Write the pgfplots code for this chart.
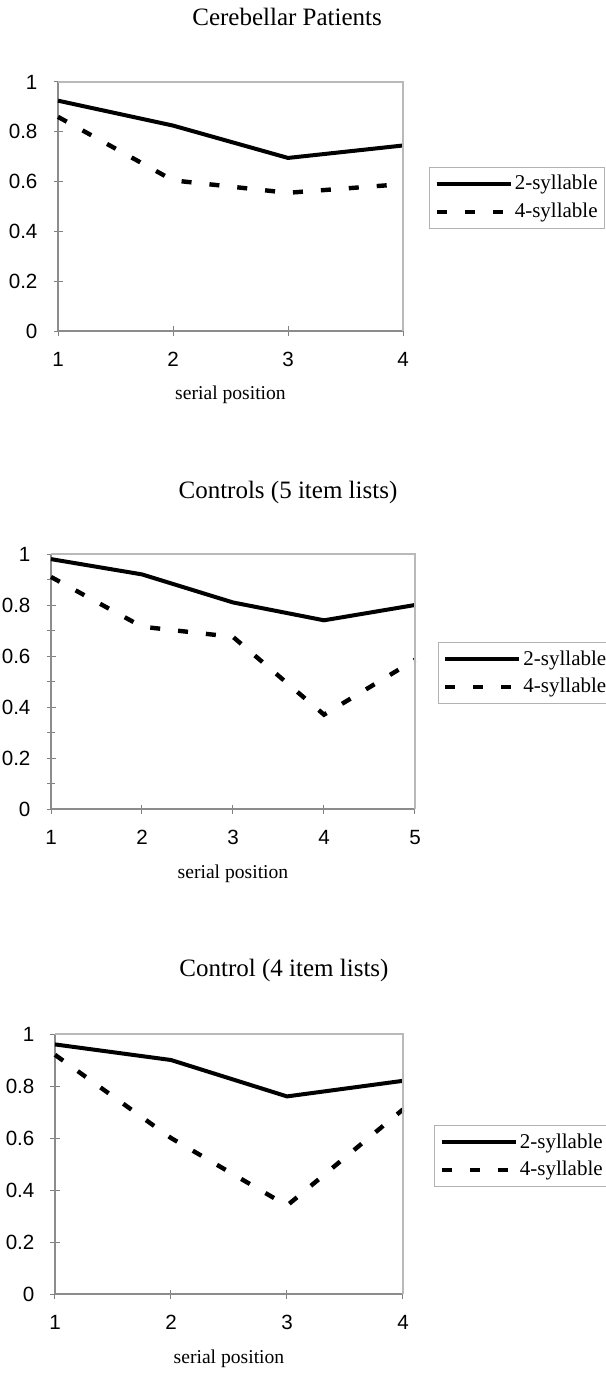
\documentclass[border=0pt]{standalone}
\usepackage{fontspec}
\setmainfont{Liberation Serif}
\newfontfamily\arialfont{Liberation Sans}
\usepackage{pgfplots}
\pgfplotsset{compat=1.18}

% 1 px of the reference = 0.5pt
\pgfplotsset{
  legend image code/.code={\draw[#1] (0pt,0pt) -- (37pt,0pt);},
  panel/.style={
    scale only axis,
    anchor=north west,
    ymin=0, ymax=1,
    ytick={0,0.2,0.4,0.6,0.8,1},
    axis x line*=bottom, axis y line*=left,
    axis line style={draw=gray!90, line width=0.7pt},
    tick align=center,
    major tick length=4.5pt,
    minor tick length=4pt,
    tick style={gray, line width=0.5pt},
    ticklabel style={font=\arialfont\fontsize{10.3}{12}\selectfont},
    /pgf/number format/assume math mode=true,
    xticklabel style={anchor=center, yshift=-12pt},
    yticklabel style={anchor=east, xshift=-4.5pt},
    xlabel={serial position},
    label style={font=\fontsize{9.8}{11}\selectfont},
    every axis title shift=0pt,
    title style={font=\fontsize{12.5}{14}\selectfont, anchor=center},
    clip=false,
    legend cell align=left,
    legend style={anchor=north west, draw=gray!60, line width=0.5pt,
      font=\fontsize{10.5}{12}\selectfont, inner xsep=2.5pt, inner ysep=3pt,
      row sep=3pt, nodes={inner sep=1pt}},
    extra description/.code={
      \draw[gray!55, line width=0.6pt] (rel axis cs:0,1) -- (rel axis cs:1,1) -- (rel axis cs:1,0);
    },
  },
  two/.style={black, line width=2pt},
  four/.style={black, line width=2.2pt, dash pattern=on 5pt off 9pt},
}

\begin{document}
\begin{tikzpicture}
\path[use as bounding box] (0,0) rectangle (302.5pt,-687pt);

% Cerebellar Patients
\begin{axis}[panel,
  at={(29pt,-41pt)}, width=172.5pt, height=124.5pt,
  xmin=1, xmax=4, xtick={1,2,3,4},
  title={Cerebellar Patients}, title style={at={(0.664,1.261)}},
  xlabel style={at={(0.5,-0.257)}, anchor=center},
  legend style={at={(1.075,0.659)}},
]
\addplot[two] coordinates {(1,0.925) (2,0.825) (3,0.695) (4,0.745)};
\addplot[four] coordinates {(1,0.86) (2,0.605) (3,0.555) (4,0.59)};
\legend{2-syllable, 4-syllable}
\end{axis}

% Controls (5 item lists)
\begin{axis}[panel,
  at={(25.5pt,-277pt)}, width=182pt, height=127.5pt,
  xmin=1, xmax=5, xtick={1,2,3,4,5},
  minor y tick num=1,
  title={Controls (5 item lists)}, title style={at={(0.651,1.243)}},
  xlabel style={at={(0.5,-0.255)}, anchor=center},
  legend style={at={(1.062,0.655)}},
]
\addplot[two] coordinates {(1,0.98) (2,0.92) (3,0.81) (4,0.74) (5,0.80)};
\addplot[four] coordinates {(1,0.91) (2,0.715) (3,0.675) (4,0.37) (5,0.585)};
\legend{2-syllable, 4-syllable}
\end{axis}

% Control (4 item lists)
\begin{axis}[panel,
  at={(27.5pt,-517pt)}, width=174pt, height=130pt,
  xmin=1, xmax=4, xtick={1,2,3,4},
  title={Control (4 item lists)}, title style={at={(0.658,1.246)}},
  xlabel style={at={(0.5,-0.25)}, anchor=center},
  legend style={at={(1.089,0.65)}},
]
\addplot[two] coordinates {(1,0.96) (2,0.90) (3,0.76) (4,0.82)};
\addplot[four] coordinates {(1,0.92) (2,0.60) (3,0.34) (4,0.71)};
\legend{2-syllable, 4-syllable}
\end{axis}
\end{tikzpicture}
\end{document}
